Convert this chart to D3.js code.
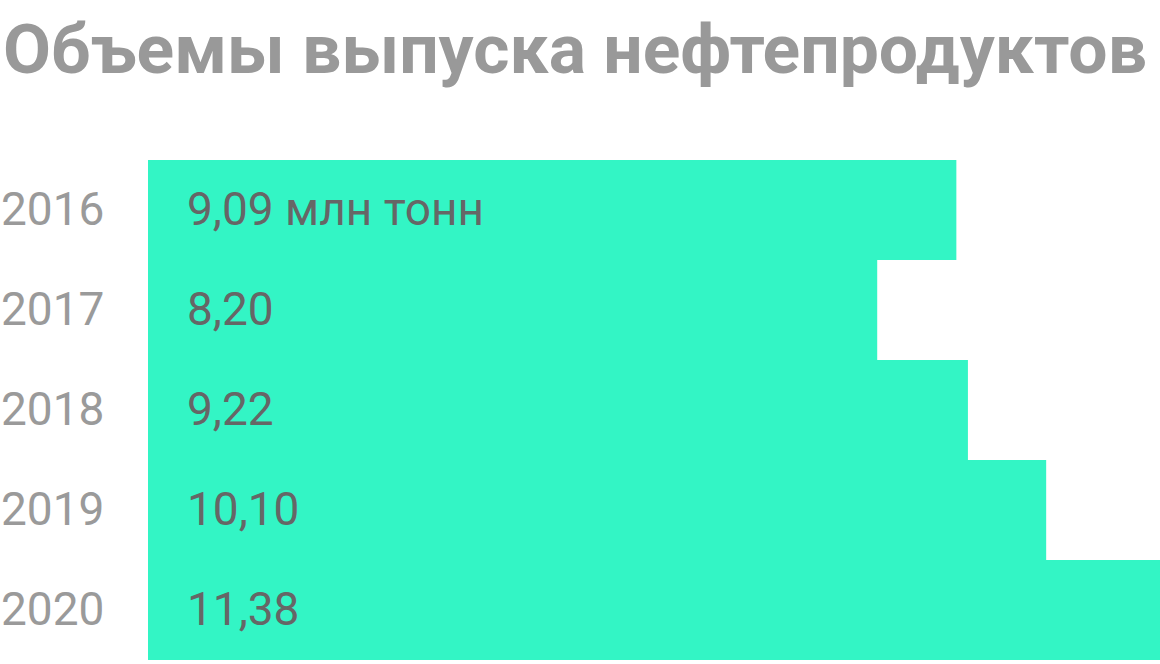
<!DOCTYPE html>
<html><head><meta charset="utf-8">
<script src="https://cdn.jsdelivr.net/npm/d3@7/dist/d3.min.js"></script>
<style>html,body{margin:0;padding:0;background:#fff;}svg{display:block;}</style>
</head><body>
<script>
const years = ["2016","2017","2018","2019","2020"];
const values = [9.09, 8.20, 9.22, 10.10, 11.38];
const valueLabels = ["9,09 млн тонн","8,20","9,22","10,10","11,38"];
const title = "Объемы выпуска нефтепродуктов";

const W = 1160, H = 664;
const svg = d3.select("body").append("svg").attr("width", W).attr("height", H);

const x = d3.scaleLinear().domain([0, 11.38]).range([148, 1160]);
const y = d3.scaleBand().domain(years).range([160, 660]).padding(0);

svg.append("text").attr("x", 3).attr("y", 73)
  .attr("font-family", "Roboto").attr("font-weight", 700).attr("font-size", 68.5)
  .attr("textLength", 1144).attr("lengthAdjust", "spacingAndGlyphs")
  .attr("fill", "#999").text(title);

svg.selectAll("rect.bar").data(years).join("rect").attr("class","bar")
  .attr("x", x(0)).attr("y", d => y(d))
  .attr("width", (d,i) => x(values[i]) - x(0)).attr("height", y.bandwidth())
  .attr("fill", "#33F5C5");

svg.selectAll("text.year").data(years).join("text").attr("class","year")
  .attr("x", 1).attr("y", d => y(d) + y.bandwidth()/2 + 15)
  .attr("font-family", "Roboto").attr("font-size", 46).attr("fill", "#9a9a9a")
  .text(d => d);

svg.selectAll("text.val").data(years).join("text").attr("class","val")
  .attr("x", 187).attr("y", d => y(d) + y.bandwidth()/2 + 15)
  .attr("font-family", "Roboto").attr("font-size", 46).attr("fill", "#666")
  .text((d,i) => valueLabels[i]);
</script>
</body></html>
